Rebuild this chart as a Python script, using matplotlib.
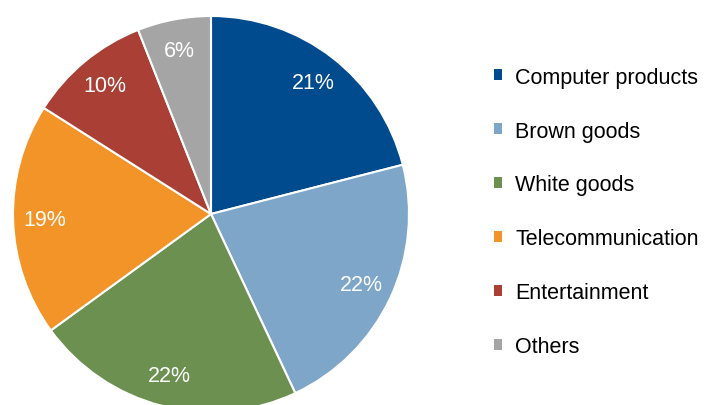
import matplotlib
matplotlib.use('Agg')
import matplotlib.pyplot as plt
from matplotlib.patches import Patch

# data
categories = ['Computer products', 'Brown goods', 'White goods',
              'Telecommunication', 'Entertainment', 'Others']
shares = [21, 22, 22, 19, 10, 6]
colors = ['#004B8D', '#7EA6C9', '#6B904F', '#F29427', '#AA3F35', '#A5A5A5']

plt.rcParams['font.family'] = ['Liberation Sans', 'DejaVu Sans']

fig = plt.figure(figsize=(7.05, 4.06), dpi=100)
# pie centre ~ (211, 213) px, radius ~198 px
ax = fig.add_axes([13/705, -7/406, 396/705, 396/406])
wedges, texts, autotexts = ax.pie(shares, colors=colors, startangle=90,
                                  counterclock=False, autopct='%d%%',
                                  pctdistance=0.84,
                                  wedgeprops={'edgecolor': 'white', 'linewidth': 1.5},
                                  textprops={'color': 'white', 'fontsize': 15.5})
ax.set_xlim(-1, 1)
ax.set_ylim(-1, 1)
ax.set_aspect('equal')

handles = [Patch(facecolor=c, edgecolor='none') for c in colors]
leg = fig.legend(handles, categories, loc='upper left',
                 bbox_to_anchor=(485/705, 1 - 59/406), frameon=False,
                 fontsize=15.5, handlelength=0.4, handleheight=0.4,
                 handletextpad=0.6, labelspacing=1.53, borderaxespad=0)

fig.savefig('out.png', dpi=100)
